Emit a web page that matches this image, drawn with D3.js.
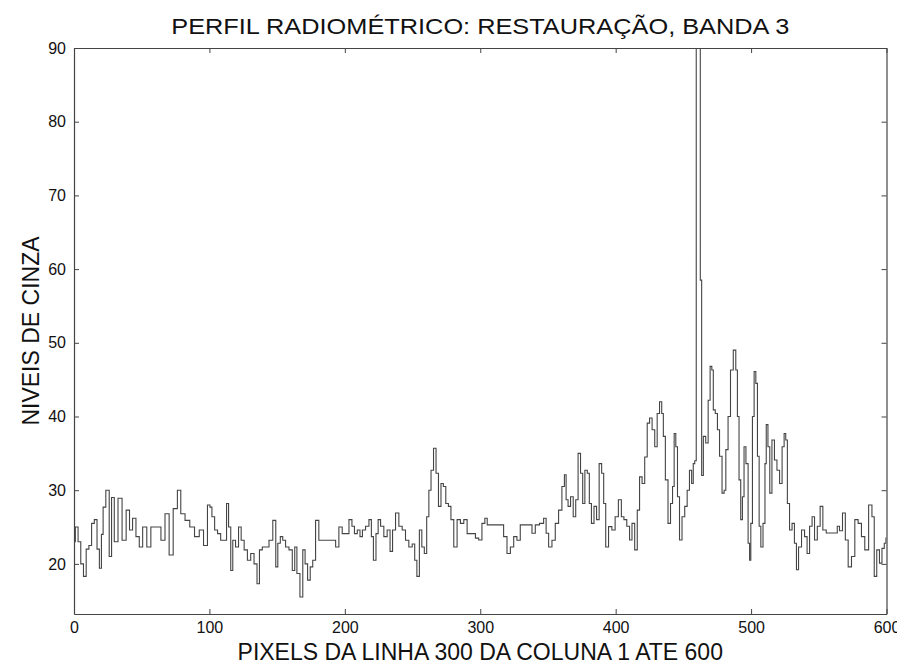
<!DOCTYPE html>
<html>
<head>
<meta charset="utf-8">
<script src="https://cdn.jsdelivr.net/npm/d3@7/dist/d3.min.js"></script>
<style>
  html, body { margin: 0; padding: 0; background: #fff; }
  svg { display: block; font-family: "Liberation Sans", Arial, Helvetica, sans-serif; }
</style>
</head>
<body>
<svg id="chart" width="897" height="666"></svg>
<script>
// ---- data ----
const title = "PERFIL RADIOMÉTRICO: RESTAURAÇÃO, BANDA 3";
const xLabel = "PIXELS DA LINHA 300 DA COLUNA 1 ATE 600";
const yLabel = "NIVEIS DE CINZA";
const xTicks = [0, 100, 200, 300, 400, 500, 600];
const yTicks = [20, 30, 40, 50, 60, 70, 80, 90];
const xDomain = [0, 600];
const yDomain = [13.2, 90];

const pixel = [
  0, 2, 4, 6, 8, 10, 12, 14, 16, 18, 19.5, 21, 22, 25, 27, 28.5, 31, 34, 37, 40,
  42, 44.5, 47, 49.4, 52, 55.5, 58, 63, 65.4, 69, 71.5, 75, 77.7, 80, 84, 87, 91, 94, 97.3, 99.8,
  101, 102.7, 105, 107, 109.6, 112, 113.3, 115, 116.5, 118, 120.6, 122.4, 124.5, 126.8, 129.3, 131.7, 134.2, 136.1, 137.8, 140.3,
  142.8, 145.2, 148.4, 149.6, 151.4, 153.3, 155, 157.5, 160, 162.4, 163.6, 165.6, 168.1, 169.8, 171.5, 173.5, 175.4, 177.2, 179.6, 182,
  186, 192, 194.4, 196.8, 199.3, 201.8, 204.3, 206.2, 208, 210.4, 212, 214, 216.6, 219, 220.2, 222, 224, 225.2, 227.6, 230,
  232.5, 234.3, 236.2, 238.7, 241.1, 243.6, 246, 248.5, 251, 252.2, 254.2, 255.9, 257.8, 259.6, 261.3, 262.8, 264.5, 266.5, 268.2, 270.1,
  271.9, 273.6, 275.5, 277.5, 279.2, 281.7, 284.1, 286.6, 289.1, 291.5, 295.2, 297.7, 300, 302.5, 304.3, 306, 316, 318.5, 321, 323.5,
  325.9, 328.3, 330.8, 337, 339.4, 341.9, 345.6, 348, 349.3, 351.7, 354.2, 356.6, 359.1, 361.5, 362.8, 364, 365.7, 367.7, 369.6, 371.4,
  373.1, 375, 376.3, 378.2, 379.9, 381.2, 383, 385, 386.8, 388.8, 390.5, 391.8, 393.5, 396, 398.4, 400.8, 403.2, 405.2, 407, 409.4,
  411.1, 413, 415.1, 416.8, 418.5, 420.5, 422.4, 424.2, 425.9, 427.9, 429.8, 431.5, 433.3, 434.7, 435.7, 437.7, 439.6, 441.4, 442.6, 443.8,
  445, 446.3, 448, 450, 452, 453.6, 455.4, 456.8, 457.8, 459, 460, 461, 462, 463, 464, 465.5, 467.5, 469.1, 470.4, 471.6,
  472.6, 474.5, 475.8, 477.6, 479.5, 480.7, 482, 484, 485.6, 488.1, 489.3, 490.5, 491.7, 493, 494.2, 495.4, 497, 498.6, 499.2, 500.4,
  501.6, 502.9, 504.1, 505.3, 506.6, 507.8, 509.8, 510.7, 511.7, 513.2, 514.4, 516.4, 518.1, 520.1, 522, 523.8, 525, 526.2, 527.4, 529.4,
  531.1, 532.9, 534.1, 536, 538.5, 540.5, 542.2, 544.2, 545.9, 547.8, 550, 552, 554, 557, 563, 564.3, 566.3, 568.7, 570.5, 572.9,
  575.4, 577.8, 580.3, 582.7, 585.2, 588.4, 590.1, 591.8, 593.8, 595.8, 597.5, 599.2, 600
];
const grayLevel = [
  23, 25, 23, 20, 18.3, 22, 22.5, 25.5, 26, 22, 19.4, 24, 27.7, 30, 21, 29, 23, 28.9, 23.2, 27.3,
  24.6, 26.2, 23.7, 22.3, 25, 22.3, 25, 25, 23.2, 26.8, 21.2, 27.5, 30, 26.8, 25.9, 25, 23.7, 24.6, 22.5, 28,
  27.7, 26.4, 24.6, 24.1, 23.2, 23.2, 28.2, 25, 19.1, 23.2, 22.3, 25, 23.2, 21.9, 20.5, 21.4, 20, 17.3, 21.9, 22.3,
  22.3, 23.2, 25.9, 19.6, 22.8, 23.7, 23.2, 22.3, 21.9, 19.1, 22.3, 18.7, 15.5, 21.9, 20, 17.8, 19.6, 20.5, 25.9, 23.2,
  23.2, 23.2, 22.3, 25, 24.1, 24.1, 26, 25.1, 24.1, 24.6, 23.7, 24.6, 25.1, 26, 23.7, 20.5, 24.1, 26, 25.1, 23.7,
  24.6, 21.7, 24.6, 26.9, 25.1, 24.6, 23.2, 22.3, 22.7, 20.5, 18.3, 24.6, 22.3, 21.4, 26.4, 30, 32.7, 35.7, 32.3, 27.8,
  30.9, 30.5, 28.2, 27.8, 26, 22.3, 26, 25.5, 26, 24.1, 24.1, 23.5, 23.25, 25.5, 26.2, 25.3, 25.3, 23.7, 21.4, 22.3,
  23.7, 23.2, 25.3, 25.3, 24.15, 25.3, 25.5, 26.2, 24.15, 22.3, 23.2, 25.5, 27.3, 30.5, 32.1, 28.7, 27.8, 29.1, 26.4, 28.7,
  35, 32.3, 28.2, 32.7, 32.3, 28.2, 25.5, 27.8, 26, 33.6, 32.3, 28.2, 22.3, 25.05, 24.6, 26.4, 28.7, 26.4, 26, 25.1,
  23.25, 25.5, 21.9, 27.3, 31.8, 30.9, 34.5, 39.1, 39.8, 38.2, 35.9, 40.4, 42, 40.4, 37.3, 31.4, 25.5, 28.2, 30.5, 37.7,
  35.9, 29.1, 23.25, 26.4, 27.8, 30, 32.7, 30.9, 33.6, 34, 98, 100, 96, 58.5, 32, 37.3, 36.4, 42.2, 46.8, 46.3,
  40.9, 40.4, 38.2, 34.6, 29.6, 30, 35.5, 40, 46.3, 49, 46.3, 40, 31.4, 26, 29.1, 35.9, 33.6, 22.8, 20.5, 25.5,
  40, 46.1, 44.5, 34.6, 25.1, 22.3, 25.5, 33.6, 38.9, 35.9, 29.6, 36.8, 34.1, 32.7, 30.9, 35.9, 37.7, 36.8, 28.2, 24.6,
  25.5, 22.8, 19.2, 22.3, 24.6, 23.7, 21.4, 25.1, 26.4, 23.25, 25.1, 27.8, 24.6, 24.2, 24.2, 25.1, 24.5, 26.9, 23.25, 19.6,
  21, 26, 25.5, 23.7, 21.9, 28, 26.4, 18.3, 21.9, 20.1, 22.1, 22.8, 23.5
];

// ---- layout ----
const svg = d3.select("#chart");
const W = 897, H = 666;
const margin = { left: 74, right: 10.5, top: 48, bottom: 52 };
const x0 = margin.left, x1 = W - margin.right;
const y0 = margin.top, y1 = H - margin.bottom;

const x = d3.scaleLinear().domain(xDomain).range([x0, x1]);
const y = d3.scaleLinear().domain(yDomain).range([y1, y0]);

const axisColor = "#444";
const textColor = "#111";

svg.append("rect").attr("width", W).attr("height", H).attr("fill", "#fff");

// clip path
svg.append("clipPath").attr("id", "plotclip")
  .append("rect").attr("x", x0).attr("y", y0).attr("width", x1 - x0).attr("height", y1 - y0);

// line
const data = pixel.map((p, i) => ({ p, g: grayLevel[i] }));
const line = d3.line().x(d => x(d.p)).y(d => y(d.g)).curve(d3.curveStep);
svg.append("path")
  .datum(data)
  .attr("clip-path", "url(#plotclip)")
  .attr("fill", "none")
  .attr("stroke", "#444")
  .attr("stroke-width", 1.1)
  .attr("d", line);

// axes
function styleAxis(g, showLabels) {
  g.select(".domain").attr("stroke", axisColor).attr("stroke-width", 1.2);
  g.selectAll(".tick line").attr("stroke", axisColor);
  g.selectAll(".tick text")
    .attr("fill", textColor)
    .style("font-size", "16px")
    .style("font-family", "'Liberation Sans', Arial, sans-serif");
  if (!showLabels) g.selectAll(".tick text").remove();
}

const gx = svg.append("g").attr("transform", `translate(0,${y1})`)
  .call(d3.axisBottom(x).tickValues(xTicks).tickFormat(d3.format("d")).tickSizeInner(-5).tickSizeOuter(0).tickPadding(8));
styleAxis(gx, true);

const gxTop = svg.append("g").attr("transform", `translate(0,${y0})`)
  .call(d3.axisTop(x).tickValues(xTicks).tickSizeInner(-5).tickSizeOuter(0));
styleAxis(gxTop, false);

const gy = svg.append("g").attr("transform", `translate(${x0},0)`)
  .call(d3.axisLeft(y).tickValues(yTicks).tickFormat(d3.format("d")).tickSizeInner(-5).tickSizeOuter(0).tickPadding(8));
styleAxis(gy, true);

const gyRight = svg.append("g").attr("transform", `translate(${x1},0)`)
  .call(d3.axisRight(y).tickValues(yTicks).tickSizeInner(-5).tickSizeOuter(0));
styleAxis(gyRight, false);

// titles
svg.append("text")
  .attr("x", (x0 + x1) / 2).attr("y", 34)
  .attr("text-anchor", "middle")
  .attr("fill", textColor)
  .style("font-size", "22px")
  .attr("textLength", 618).attr("lengthAdjust", "spacingAndGlyphs")
  .text(title);

svg.append("text")
  .attr("x", (x0 + x1) / 2).attr("y", 660)
  .attr("text-anchor", "middle")
  .attr("fill", textColor)
  .style("font-size", "23px")
  .text(xLabel);

svg.append("text")
  .attr("transform", `translate(39,${(y0 + y1) / 2}) rotate(-90)`)
  .attr("text-anchor", "middle")
  .attr("fill", textColor)
  .style("font-size", "23px")
  .text(yLabel);
</script>
</body>
</html>
